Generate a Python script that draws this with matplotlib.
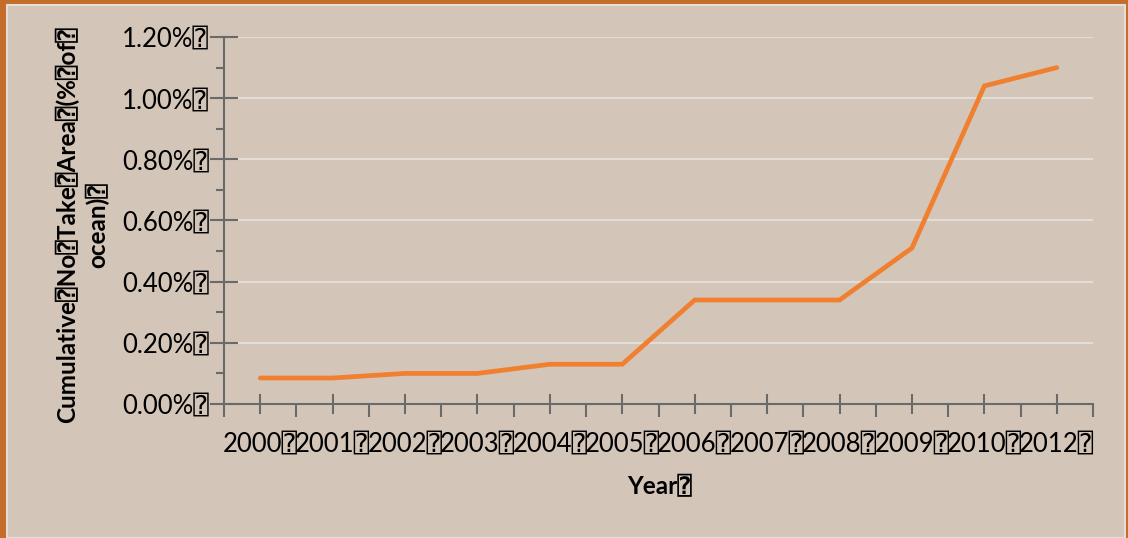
import matplotlib.pyplot as plt
import matplotlib.patches as mpatches
from matplotlib.ticker import FixedLocator, MultipleLocator, FuncFormatter

plt.rcParams['font.family'] = ['Lato', 'DejaVu Sans Mono', 'DejaVu Sans']

# data (% of ocean)
years = ['2000', '2001', '2002', '2003', '2004', '2005',
         '2006', '2007', '2008', '2009', '2010', '2012']
no_take = [0.085, 0.085, 0.10, 0.10, 0.13, 0.13,
           0.34, 0.34, 0.34, 0.51, 1.04, 1.10]
box = '\u2370'

fig = plt.figure(figsize=(11.28, 5.38), dpi=100)
fig.patch.set_facecolor('#c46c2a')
# panel behind the chart
fig.patches.append(mpatches.Rectangle((7 / 1128, 0), 1118 / 1128, 533 / 538,
                                      transform=fig.transFigure,
                                      facecolor='#d3c6b9', edgecolor='#e6ded6',
                                      linewidth=1.5, zorder=0))

ax = fig.add_axes([224 / 1128, (538 - 404) / 538, 869 / 1128, 367 / 538])
ax.set_zorder(2)
ax.set_facecolor('none')

x = list(range(len(years)))
ax.plot(x, no_take, color='#f0802f', linewidth=3.4, solid_capstyle='round',
        solid_joinstyle='miter', zorder=3)

ax.set_xlim(-0.5, len(years) - 0.5)
ax.set_ylim(0, 1.2)

# ticks
ax.xaxis.set_major_locator(FixedLocator(x))
ax.xaxis.set_minor_locator(FixedLocator([i + 0.5 for i in range(-1, len(years))]))
ax.set_xticklabels([y + box for y in years])
ax.yaxis.set_major_locator(MultipleLocator(0.2))
ax.yaxis.set_minor_locator(MultipleLocator(0.1))
ax.yaxis.set_major_formatter(FuncFormatter(lambda v, p: f'{v:.2f}%' + box))

ax.tick_params(axis='x', which='major', direction='inout', length=14, width=1.5,
               color='#6a6a6a', labelsize=18.5, pad=13)
ax.tick_params(axis='x', which='minor', direction='out', length=9, width=1.5,
               color='#6a6a6a')
ax.tick_params(axis='y', which='major', direction='inout', length=20, width=1.5,
               color='#6a6a6a', labelsize=18.5, pad=1)
ax.tick_params(axis='y', which='minor', direction='out', length=6, width=1.5,
               color='#6a6a6a')

ax.grid(axis='y', which='major', color='#e4ddd5', linewidth=1.5, zorder=1)
for s in ['top', 'right']:
    ax.spines[s].set_visible(False)
for s in ['left', 'bottom']:
    ax.spines[s].set_color('#6a6a6a')
    ax.spines[s].set_linewidth(1.5)

fig.text(82 / 1128, (538 - 225) / 538,
         f'Cumulative{box}No{box}Take{box}Area{box}(%{box}of{box}\nocean){box}',
         rotation=90, ha='center', va='center', multialignment='center',
         fontsize=17.5, fontweight='bold', linespacing=1.3)
fig.text(660 / 1128, (538 - 487) / 538, 'Year' + box, ha='center', va='center',
         fontsize=17.5, fontweight='bold')

fig.savefig('out.png', dpi=100, facecolor=fig.get_facecolor())
